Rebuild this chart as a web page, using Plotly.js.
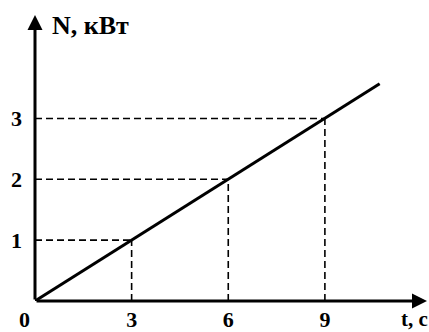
<!DOCTYPE html>
<html>
<head>
<meta charset="utf-8">
<script src="https://cdn.plot.ly/plotly-3.0.1.min.js"></script>
<style>html,body{margin:0;padding:0;background:#fff;}#chart{width:429px;height:332px;}</style>
</head>
<body>
<div id="chart"></div>
<script>
// Data
const lineT = [0, 10.7];          // time, s
const lineN = [0, 3.57];          // power, kW
const markT = [3, 6, 9];          // marked times, s
const markN = [1, 2, 3];          // marked powers, kW
const xTickVals = [3, 6, 9];
const xTickText = ['3', '6', '9'];
const yTickVals = [1, 2, 3];
const yTickText = ['1', '2', '3'];
const yLabel = 'N, кВт';
const xLabel = 't, c';
const originLabel = '0';

const xMax = 12.17, yMax = 4.70;
const serif = '"Liberation Serif", "Times New Roman", serif';

const shapes = [];
markT.forEach((t, i) => {
  shapes.push({type:'line', xref:'x', yref:'y', x0:0, y0:markN[i], x1:t, y1:markN[i],
    line:{color:'#000', width:1.6, dash:'7px,4px'}, layer:'below'});
  shapes.push({type:'line', xref:'x', yref:'y', x0:t, y0:0, x1:t, y1:markN[i],
    line:{color:'#000', width:1.6, dash:'7px,4px'}, layer:'below'});
});

const annotations = [
  {x:xMax, y:0, ax:0, ay:0, xref:'x', yref:'y', axref:'x', ayref:'y', text:'',
   showarrow:true, arrowhead:2, arrowsize:1, arrowwidth:3, arrowcolor:'#000', standoff:0},
  {x:0, y:yMax, ax:0, ay:0, xref:'x', yref:'y', axref:'x', ayref:'y', text:'',
   showarrow:true, arrowhead:2, arrowsize:1, arrowwidth:3, arrowcolor:'#000', standoff:0},
  {x:0, y:yMax, xref:'x', yref:'y', text:'<b>'+yLabel+'</b>', showarrow:false,
   xanchor:'left', yanchor:'middle', xshift:15, yshift:-10,
   font:{family:serif, size:26, color:'#000'}},
  {x:1, y:0, xref:'paper', yref:'paper', text:'<b>'+xLabel+'</b>', showarrow:false,
   xanchor:'right', yanchor:'bottom', yshift:-31, xshift:2, borderpad:0,
   font:{family:serif, size:21, color:'#000'}},
  {x:0, y:0, xref:'x', yref:'y', text:'<b>'+originLabel+'</b>', showarrow:false,
   xanchor:'center', yanchor:'top', xshift:-11, yshift:-5, borderpad:0,
   font:{family:serif, size:22, color:'#000'}}
];

Plotly.newPlot('chart', [{
  x: lineT, y: lineN, type:'scatter', mode:'lines',
  line:{color:'#000', width:3}, hoverinfo:'skip', cliponaxis:false
}], {
  width:429, height:332,
  margin:{l:35, r:2, t:15, b:31, pad:0},
  paper_bgcolor:'#fff', plot_bgcolor:'#fff',
  showlegend:false,
  xaxis:{range:[0, xMax], showgrid:false, zeroline:false, showline:false,
    tickmode:'array', tickvals:xTickVals, ticktext:xTickText.map(s=>'<b>'+s+'</b>'),
    ticks:'', ticklabelstandoff:3,
    tickfont:{family:serif, size:22, color:'#000'}, fixedrange:true},
  yaxis:{range:[0, yMax], showgrid:false, zeroline:false, showline:false,
    tickmode:'array', tickvals:yTickVals, ticktext:yTickText.map(s=>'<b>'+s+'</b>'),
    ticks:'', ticklabelstandoff:12,
    tickfont:{family:serif, size:22, color:'#000'}, fixedrange:true},
  shapes: shapes,
  annotations: annotations
}, {displayModeBar:false, staticPlot:true});
</script>
</body>
</html>
